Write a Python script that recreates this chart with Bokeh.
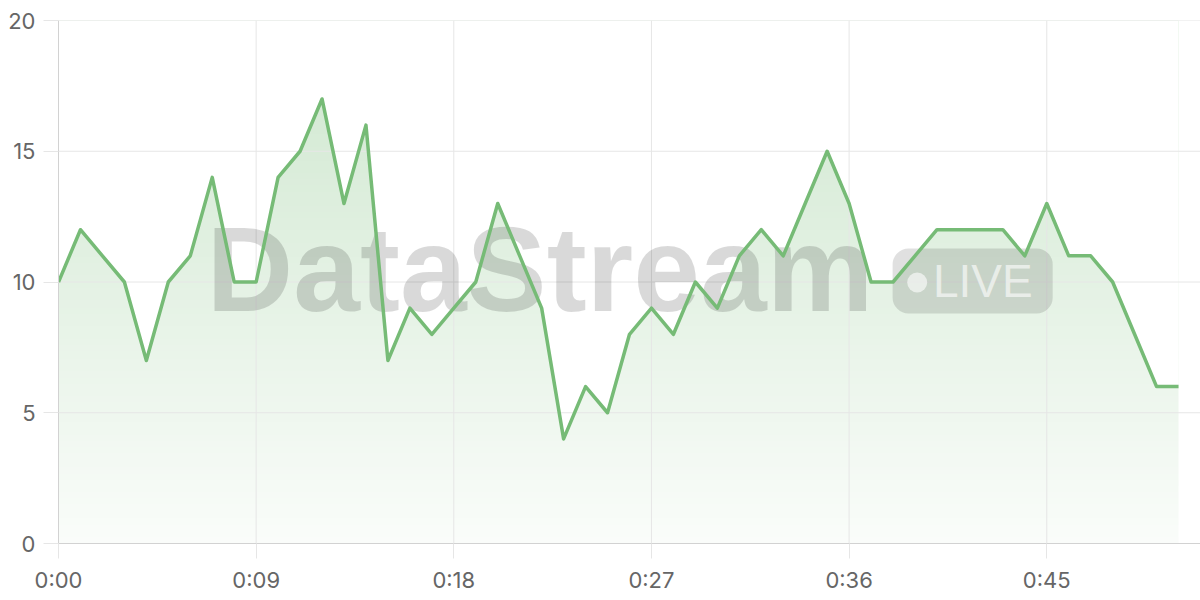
import numpy as np
from bokeh.plotting import figure
from bokeh.models import FixedTicker, Range1d
from bokeh.core.properties import value
from bokeh.embed import file_html
from bokeh.resources import INLINE

# ---- data ----
values = [10, 12, 11, 10, 7, 10, 11, 14, 10, 10, 14, 15, 17, 13, 16, 7, 9, 8, 9, 10,
          13, 11, 9, 4, 6, 5, 8, 9, 8, 10, 9, 11, 12, 11, 13, 15, 13, 10, 10, 11,
          12, 12, 12, 12, 11, 13, 11, 11, 10, 8, 6, 6]
seconds = list(range(len(values)))
x_ticks = [0, 9, 18, 27, 36, 45]
x_tick_labels = ["0:00", "0:09", "0:18", "0:27", "0:36", "0:45"]
y_ticks = [0, 5, 10, 15, 20]

X_MAX = 52
Y_MAX = 20

LINE = "#76bb76"
GRID = "#e6e6e6"
AXIS = "#d2d2d2"
LABEL = "#666666"
FONT = "Liberation Sans"
TICK_FONT = "Inter"

p = figure(width=1200, height=598, output_backend="svg", toolbar_location=None,
           x_range=Range1d(0, X_MAX), y_range=Range1d(0, Y_MAX),
           min_border_left=58, min_border_right=0, min_border_top=20, min_border_bottom=55)
p.outline_line_color = None
p.background_fill_color = "white"
p.border_fill_color = "white"
p.grid.visible = False

# gradient fill (image) masked above the line
N = 256
img = np.empty((N, 1), dtype=np.uint32)
view = img.view(dtype=np.uint8).reshape((N, 1, 4))
view[:, 0, 0] = 118
view[:, 0, 1] = 187
view[:, 0, 2] = 118
view[:, 0, 3] = (np.linspace(0.04, 0.36, N) * 255).astype(np.uint8)
p.image_rgba(image=[img], x=seconds[0], y=0, dw=seconds[-1] - seconds[0], dh=Y_MAX)
p.varea(x=seconds, y1=values, y2=[Y_MAX] * len(values), fill_color="white")

# grid lines
gx = [t for t in x_ticks if t != 0]
p.segment(x0=gx, y0=[0] * len(gx), x1=gx, y1=[Y_MAX] * len(gx), line_color=GRID, line_width=1)
gy = [t for t in y_ticks if t != 0]
p.segment(x0=[0] * len(gy), y0=gy, x1=[X_MAX] * len(gy), y1=gy, line_color=GRID, line_width=1)

# watermark
p.text(x=[6.74], y=[10.48], text=["DataStream"], text_font=value(FONT), text_font_style="bold",
       text_font_size="120px", text_color="black", text_alpha=0.15,
       text_align="left", text_baseline="alphabetic")
p.quad(left=[37.98], right=[45.27], bottom=[8.80], top=[11.28], border_radius=16,
       fill_color="black", fill_alpha=0.12, line_color=None)
p.scatter(x=[39.1], y=[9.98], size=20, marker="circle", fill_color="white", fill_alpha=0.6,
          line_color=None)
p.text(x=[39.82], y=[10.02], text=["LIVE"], text_font=value(FONT), text_font_size="46px",
       text_color="white", text_alpha=0.6, text_align="left", text_baseline="alphabetic")

# data line
p.line(seconds, values, line_color=LINE, line_width=3.5, line_join="round")

# axes
for ax in (p.xaxis[0], p.yaxis[0]):
    ax.axis_line_color = AXIS
    ax.axis_line_width = 1
    ax.major_tick_line_color = GRID
    ax.major_tick_out = 15
    ax.major_tick_in = 0
    ax.minor_tick_line_color = None
    ax.major_label_text_font = TICK_FONT
    ax.major_label_text_font_size = "22px"
    ax.major_label_text_color = LABEL
    ax.major_label_standoff = 8

p.xaxis.ticker = FixedTicker(ticks=x_ticks)
p.xaxis.major_label_overrides = {t: l for t, l in zip(x_ticks, x_tick_labels)}
p.yaxis.ticker = FixedTicker(ticks=y_ticks)

open("out.html", "w").write(file_html(p, INLINE))
